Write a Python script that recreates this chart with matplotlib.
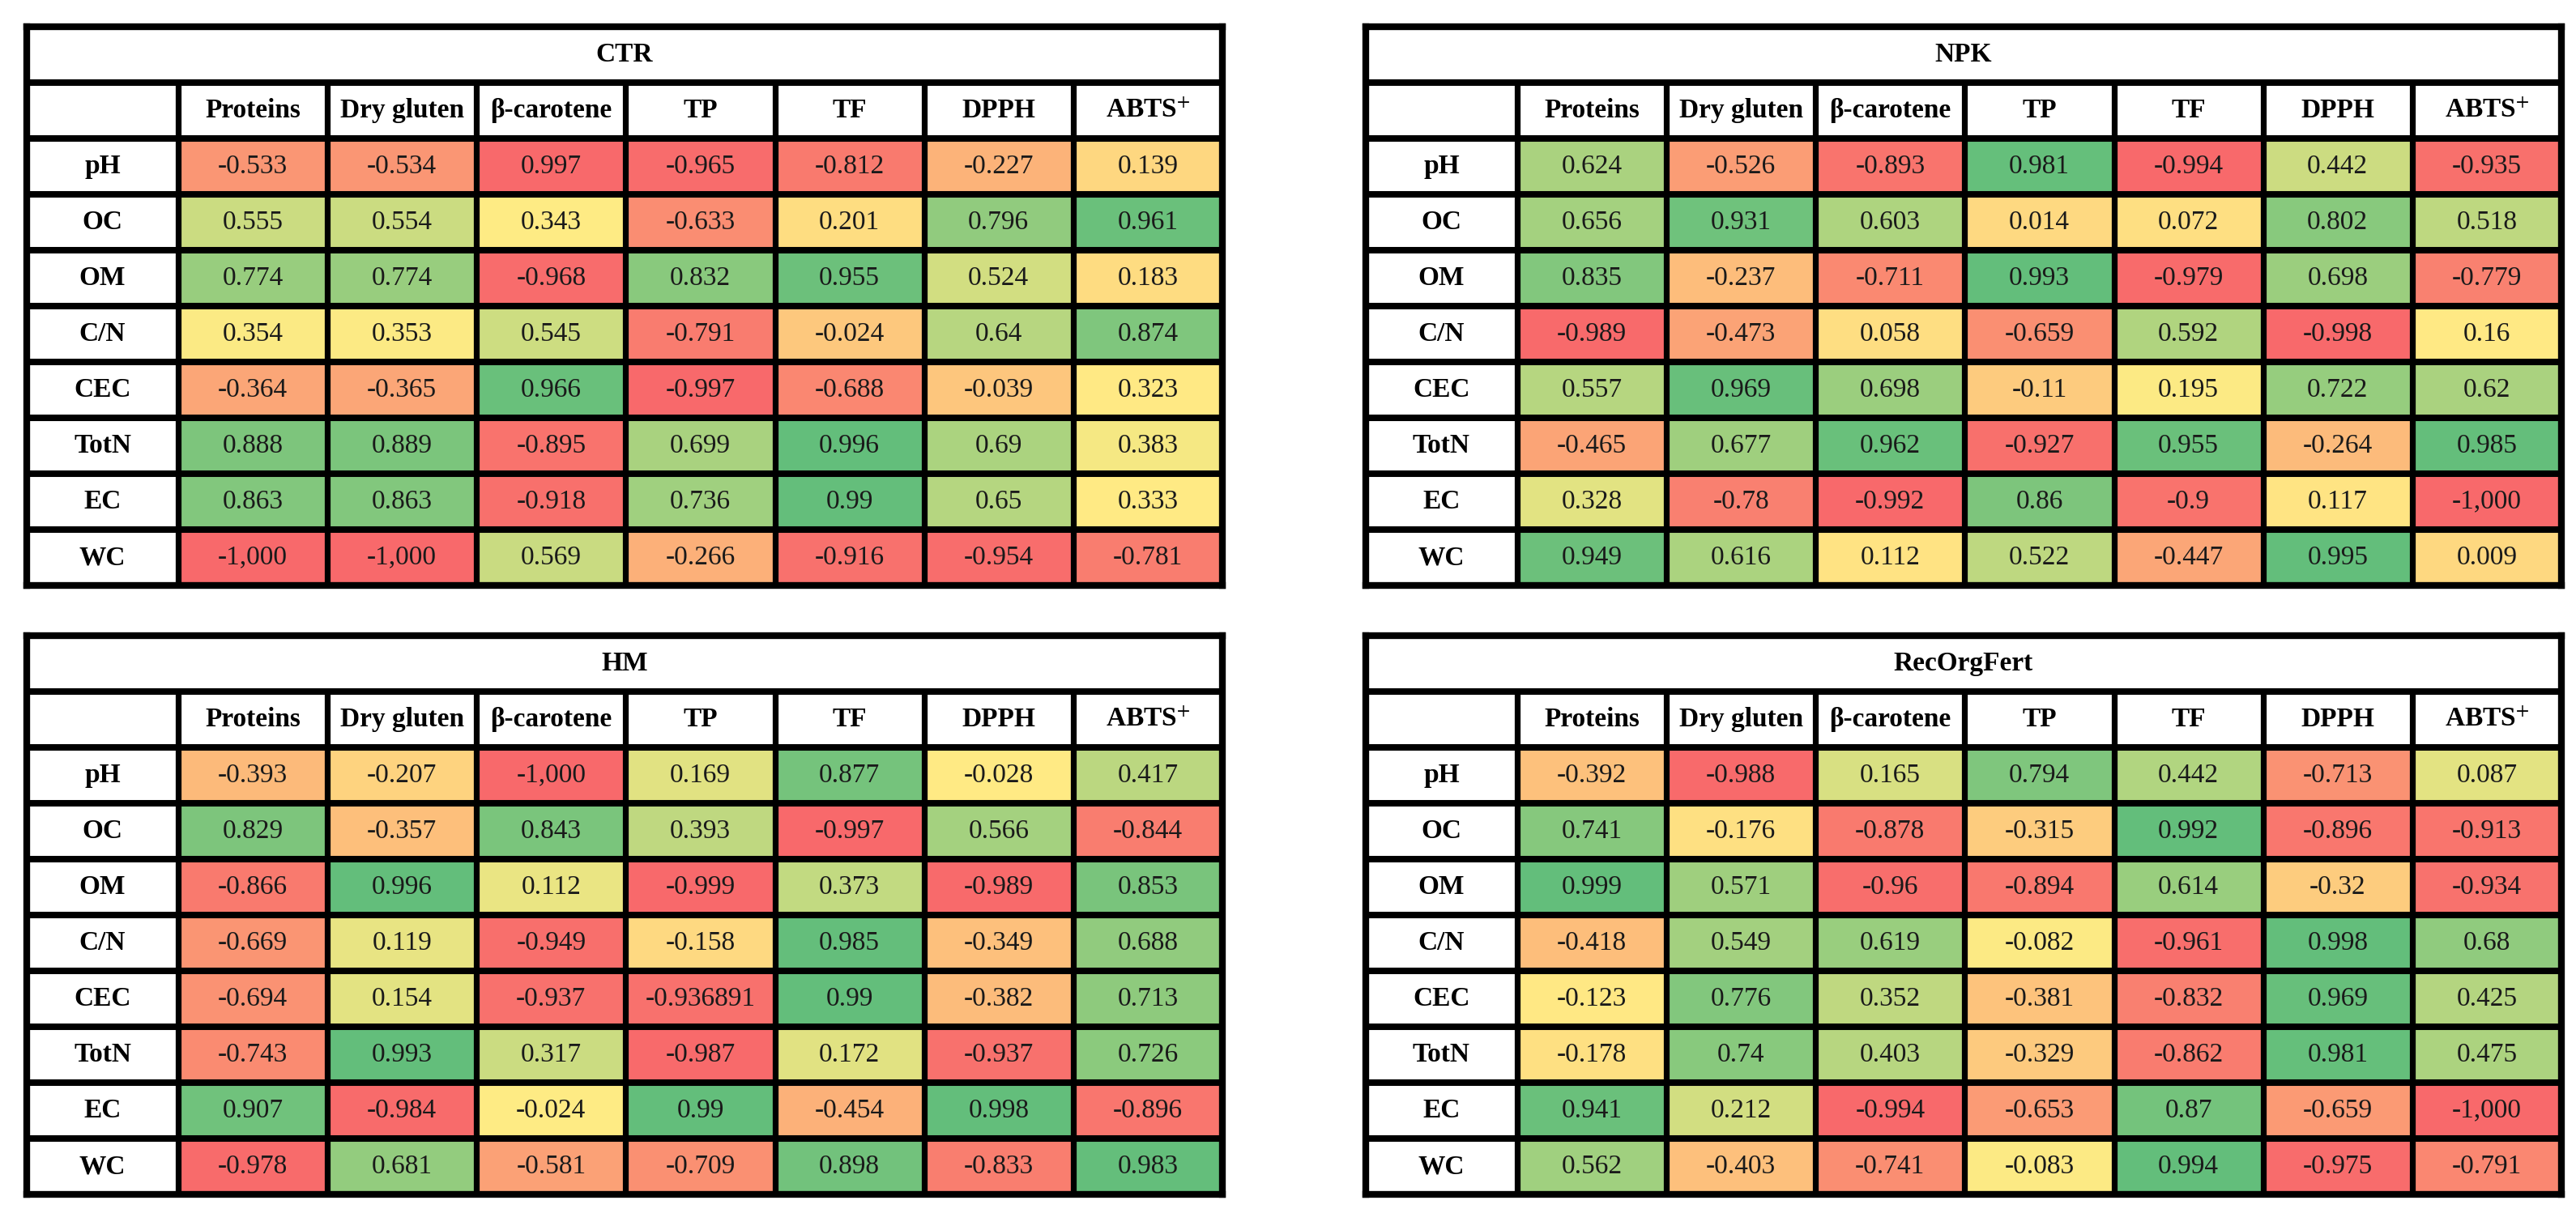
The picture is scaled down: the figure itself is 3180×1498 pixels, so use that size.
import numpy as np
import matplotlib.pyplot as plt
from matplotlib.colors import LinearSegmentedColormap, TwoSlopeNorm

plt.rcParams['font.family'] = ['Liberation Serif', 'DejaVu Serif']
plt.rcParams['mathtext.fontset'] = 'stix'

cols = ['Proteins', 'Dry gluten', 'β-carotene', 'TP', 'TF', 'DPPH', r'ABTS$^{+}$']
rows = ['pH', 'OC', 'OM', 'C/N', 'CEC', 'TotN', 'EC', 'WC']

ctr = [
    [-0.533, -0.534, 0.997, -0.965, -0.812, -0.227, 0.139],
    [0.555, 0.554, 0.343, -0.633, 0.201, 0.796, 0.961],
    [0.774, 0.774, -0.968, 0.832, 0.955, 0.524, 0.183],
    [0.354, 0.353, 0.545, -0.791, -0.024, 0.64, 0.874],
    [-0.364, -0.365, 0.966, -0.997, -0.688, -0.039, 0.323],
    [0.888, 0.889, -0.895, 0.699, 0.996, 0.69, 0.383],
    [0.863, 0.863, -0.918, 0.736, 0.99, 0.65, 0.333],
    [-1.0, -1.0, 0.569, -0.266, -0.916, -0.954, -0.781],
]
# the pH / beta-carotene cell is printed 0.997 but coloured as the minimum
ctr_colour = [r[:] for r in ctr]
ctr_colour[0][2] = -0.997

npk = [
    [0.624, -0.526, -0.893, 0.981, -0.994, 0.442, -0.935],
    [0.656, 0.931, 0.603, 0.014, 0.072, 0.802, 0.518],
    [0.835, -0.237, -0.711, 0.993, -0.979, 0.698, -0.779],
    [-0.989, -0.473, 0.058, -0.659, 0.592, -0.998, 0.16],
    [0.557, 0.969, 0.698, -0.11, 0.195, 0.722, 0.62],
    [-0.465, 0.677, 0.962, -0.927, 0.955, -0.264, 0.985],
    [0.328, -0.78, -0.992, 0.86, -0.9, 0.117, -1.0],
    [0.949, 0.616, 0.112, 0.522, -0.447, 0.995, 0.009],
]

hm = [
    [-0.393, -0.207, -1.0, 0.169, 0.877, -0.028, 0.417],
    [0.829, -0.357, 0.843, 0.393, -0.997, 0.566, -0.844],
    [-0.866, 0.996, 0.112, -0.999, 0.373, -0.989, 0.853],
    [-0.669, 0.119, -0.949, -0.158, 0.985, -0.349, 0.688],
    [-0.694, 0.154, -0.937, -0.936891, 0.99, -0.382, 0.713],
    [-0.743, 0.993, 0.317, -0.987, 0.172, -0.937, 0.726],
    [0.907, -0.984, -0.024, 0.99, -0.454, 0.998, -0.896],
    [-0.978, 0.681, -0.581, -0.709, 0.898, -0.833, 0.983],
]

recorg = [
    [-0.392, -0.988, 0.165, 0.794, 0.442, -0.713, 0.087],
    [0.741, -0.176, -0.878, -0.315, 0.992, -0.896, -0.913],
    [0.999, 0.571, -0.96, -0.894, 0.614, -0.32, -0.934],
    [-0.418, 0.549, 0.619, -0.082, -0.961, 0.998, 0.68],
    [-0.123, 0.776, 0.352, -0.381, -0.832, 0.969, 0.425],
    [-0.178, 0.74, 0.403, -0.329, -0.862, 0.981, 0.475],
    [0.941, 0.212, -0.994, -0.653, 0.87, -0.659, -1.0],
    [0.562, -0.403, -0.741, -0.083, 0.994, -0.975, -0.791],
]

W, H = 3180, 1498
TW, TH = 1476, 690   # table size in pixels
LABW = 187           # row label column width
ROWH = TH / 10

cmap = LinearSegmentedColormap.from_list('ryg', ['#F8696B', '#FFEB84', '#63BE7B'])


def fmt(v):
    if v == -1.0:
        return '-1,000'
    return f'{v:g}'


def draw_table(fig, x0, y0, title, vals, colour_vals=None):
    ax = fig.add_axes([x0 / W, 1 - (y0 + TH) / H, TW / W, TH / H])
    vals = np.array(vals)
    cv = vals if colour_vals is None else np.array(colour_vals)
    norm = TwoSlopeNorm(vmin=cv.min(), vcenter=np.median(cv), vmax=cv.max())

    xe = np.concatenate([[0], LABW + np.arange(8) * (TW - LABW) / 7])
    ye = np.arange(11) * ROWH
    ax.pcolormesh(xe[1:], ye[2:], cv, cmap=cmap, norm=norm)

    ax.hlines(ye[1:-1], 0, TW, color='black', lw=5.8)
    ax.vlines(xe[1:-1], ye[1], TH, color='black', lw=5.2)

    xc = (xe[:-1] + xe[1:]) / 2
    yc = (ye[:-1] + ye[1:]) / 2
    ax.text(TW / 2, yc[0], title, ha='center', va='center',
            fontsize=24, fontweight='bold')
    for j, c in enumerate(cols):
        ax.text(xc[j + 1], yc[1], c, ha='center', va='center',
                fontsize=24, fontweight='bold')
    for i, r in enumerate(rows):
        ax.text(xc[0], yc[i + 2], r, ha='center', va='center',
                fontsize=24, fontweight='bold')
        for j in range(7):
            ax.text(xc[j + 1], yc[i + 2], fmt(vals[i, j]), ha='center',
                    va='center', fontsize=24, color='#1a1a1a')

    ax.set_xlim(0, TW)
    ax.set_ylim(TH, 0)
    ax.set_xticks([])
    ax.set_yticks([])
    for s in ax.spines.values():
        s.set_linewidth(6)
        s.set_color('black')
    return ax


fig = plt.figure(figsize=(W / 100, H / 100), dpi=100)
draw_table(fig, 33, 33, 'CTR', ctr, ctr_colour)
draw_table(fig, 1686, 33, 'NPK', npk)
draw_table(fig, 33, 785, 'HM', hm)
draw_table(fig, 1686, 785, 'RecOrgFert', recorg)

fig.savefig('out.png', dpi=100)
